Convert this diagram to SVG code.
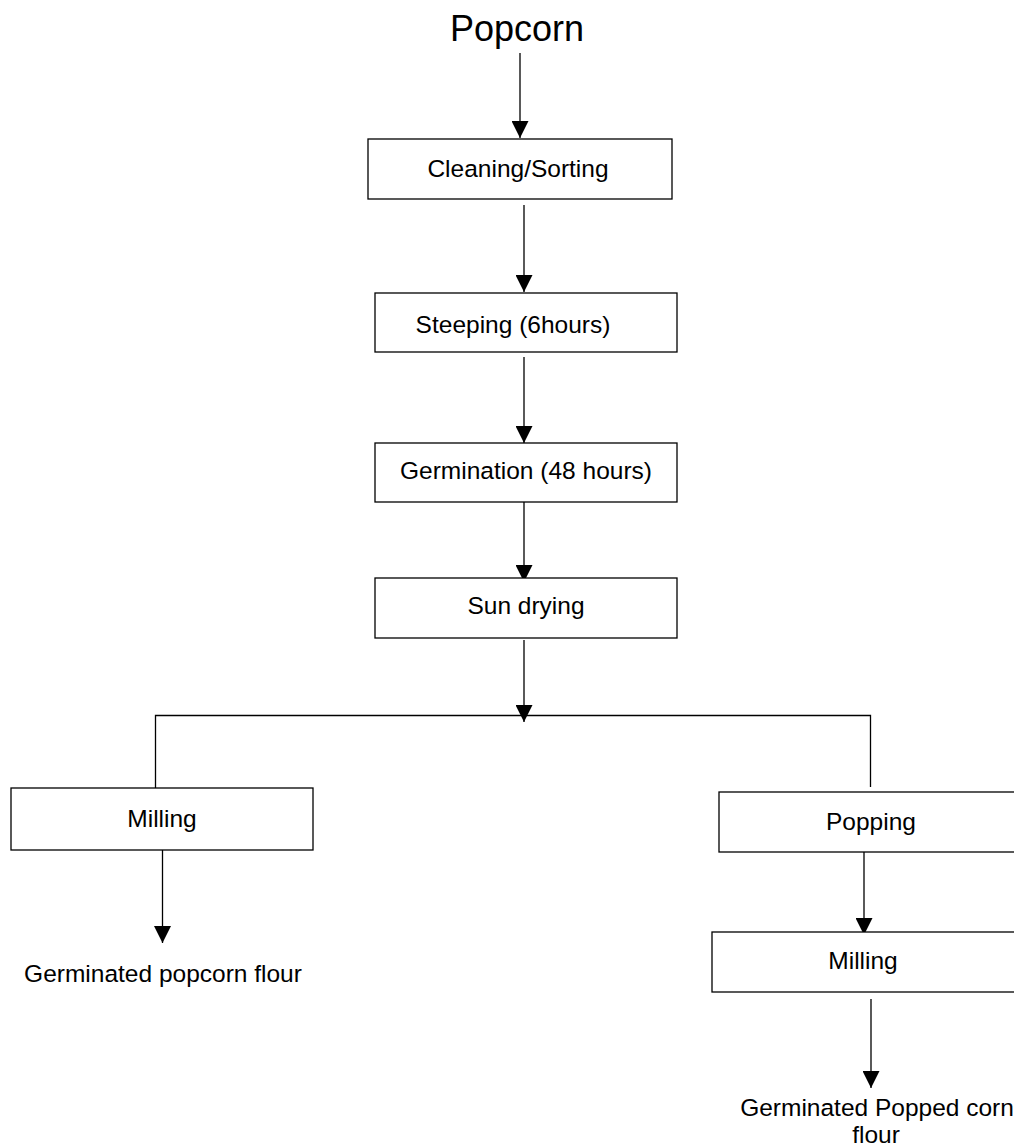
<svg xmlns="http://www.w3.org/2000/svg" width="1014" height="1147" viewBox="0 0 1014 1147">
<style>
.box{fill:#fff;stroke:#000;stroke-width:1.3}
.lbl{font-family:"Liberation Sans",Arial,sans-serif;font-size:24.5px;fill:#000;text-anchor:middle}
.ttl{font-family:"Liberation Sans",Arial,sans-serif;font-size:36px;fill:#000;text-anchor:middle}
.c{stroke:#000;stroke-width:1.3;fill:none}
</style>
<defs>
<marker id="ah" viewBox="0 0 17 17" refX="17" refY="8.5" markerWidth="17" markerHeight="17" markerUnits="userSpaceOnUse" orient="auto">
<path d="M0,0 L17,8.5 L0,17 z" fill="#000"/>
</marker>
</defs>
<rect width="1014" height="1147" fill="#fff"/>
<g id="connectors">
<line class="c" x1="520" y1="53" x2="520" y2="138" marker-end="url(#ah)"/>
<line class="c" x1="524" y1="205" x2="524" y2="292" marker-end="url(#ah)"/>
<line class="c" x1="524" y1="357" x2="524" y2="443" marker-end="url(#ah)"/>
<line class="c" x1="524" y1="496" x2="524" y2="582" marker-end="url(#ah)"/>
<line class="c" x1="524" y1="640" x2="524" y2="722" marker-end="url(#ah)"/>
<polyline class="c" points="155.5,793 155.5,715.5 870.5,715.5 870.5,787"/>
<line class="c" x1="162.5" y1="850" x2="162.5" y2="943" marker-end="url(#ah)"/>
<line class="c" x1="864" y1="851" x2="864" y2="935" marker-end="url(#ah)"/>
<line class="c" x1="871" y1="999" x2="871" y2="1088" marker-end="url(#ah)"/>
</g>
<g id="popcorn"><text class="ttl" x="517" y="41">Popcorn</text></g>
<g id="cleaning"><rect class="box" x="368" y="139" width="304" height="60"/><text class="lbl" x="518" y="177">Cleaning/Sorting</text></g>
<g id="steeping"><rect class="box" x="375" y="293" width="302" height="59"/><text class="lbl" x="513" y="333">Steeping (6hours)</text></g>
<g id="germination"><rect class="box" x="375" y="443" width="302" height="59"/><text class="lbl" x="526" y="479">Germination (48 hours)</text></g>
<g id="sundrying"><rect class="box" x="375" y="578" width="302" height="60"/><text class="lbl" x="526" y="614">Sun drying</text></g>
<g id="milling1"><rect class="box" x="11" y="788" width="302" height="62"/><text class="lbl" x="162" y="827">Milling</text></g>
<g id="flour1"><text class="lbl" x="163" y="982">Germinated popcorn flour</text></g>
<g id="popping"><rect class="box" x="719" y="792" width="310" height="60"/><text class="lbl" x="871" y="830">Popping</text></g>
<g id="milling2"><rect class="box" x="712" y="932" width="320" height="60"/><text class="lbl" x="863" y="969">Milling</text></g>
<g id="flour2"><text class="lbl" x="877" y="1116">Germinated Popped corn</text><text class="lbl" x="876" y="1143">flour</text></g>
</svg>
